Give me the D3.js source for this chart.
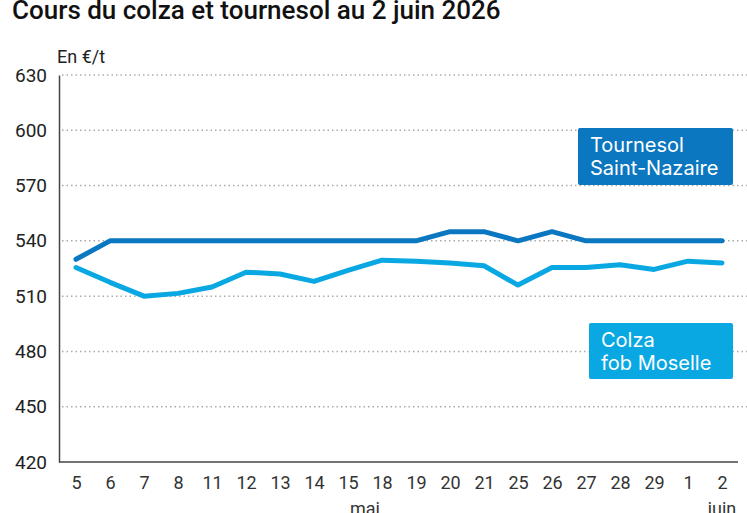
<!DOCTYPE html>
<html>
<head>
<meta charset="utf-8">
<script src="https://cdn.jsdelivr.net/npm/d3@7"></script>
<style>
  body { margin: 0; background: #fff; }
  svg { display: block; font-family: Roboto, sans-serif; }
</style>
</head>
<body>
<div id="chart"></div>
<script>
// jours de cotation (mai puis juin)
const days = ["5", "6", "7", "8", "11", "12", "13", "14", "15", "18", "19", "20", "21", "25", "26", "27", "28", "29", "1", "2"];
const tournesol = [530, 540, 540, 540, 540, 540, 540, 540, 540, 540, 540, 545, 545, 540, 545, 540, 540, 540, 540, 540];
const colza = [525.5, 517.5, 510, 511.5, 515, 523, 522, 518, 524, 529.5, 529, 528, 526.5, 516, 525.5, 525.5, 527, 524.5, 529, 528];
const yTicks = [420, 450, 480, 510, 540, 570, 600, 630];
const months = [{ label: "mai", at: 8.5 }, { label: "juin", at: 19 }];

const width = 747, height = 513;
const margin = { top: 75, right: 25, bottom: 51, left: 59 };

const svg = d3.select("#chart").append("svg")
  .attr("width", width)
  .attr("height", height);

svg.append("text")
  .attr("x", 12).attr("y", 18.5)
  .attr("font-size", 26).attr("font-weight", 500)
  .attr("fill", "#111")
  .text("Cours du colza et tournesol au 2 juin 2026");

svg.append("text")
  .attr("x", 57).attr("y", 63)
  .attr("font-size", 18).attr("fill", "#222")
  .text("En €/t");

const x = d3.scalePoint()
  .domain(d3.range(days.length))
  .range([76, 722]);

const y = d3.scaleLinear()
  .domain([420, 630])
  .range([height - margin.bottom, margin.top]);

// grille pointillée
svg.append("g")
  .selectAll("line")
  .data(yTicks.filter(d => d > 420))
  .join("line")
  .attr("x1", margin.left + 3).attr("x2", width)
  .attr("y1", d => y(d)).attr("y2", d => y(d))
  .attr("stroke", "#aaa")
  .attr("stroke-width", 1.5)
  .attr("stroke-dasharray", "1.5,3");

// axe Y
const yAxis = svg.append("g")
  .attr("transform", `translate(${margin.left},0)`)
  .call(d3.axisLeft(y).tickValues(yTicks).tickSize(0).tickPadding(12));
yAxis.select(".domain").attr("stroke", "#444").attr("stroke-width", 1.5);
yAxis.selectAll("text")
  .attr("font-size", 19).attr("fill", "#222")
  .attr("font-family", "Roboto, sans-serif");

// axe X
const xAxis = svg.append("g")
  .attr("transform", `translate(0,${y(420)})`)
  .call(d3.axisBottom(x).tickFormat(i => days[i]).tickSize(0).tickPadding(14));
xAxis.select(".domain")
  .attr("d", `M${margin.left},0H738`)
  .attr("stroke", "#444").attr("stroke-width", 1.5);
xAxis.selectAll("text")
  .attr("font-size", 18).attr("fill", "#333")
  .attr("font-family", "Roboto, sans-serif");

// mois (coupés en bas dans l'original)
svg.append("g")
  .selectAll("text")
  .data(months)
  .join("text")
  .attr("x", d => x(Math.floor(d.at)) + (d.at % 1) * x.step())
  .attr("y", 515)
  .attr("text-anchor", "middle")
  .attr("font-size", 18).attr("fill", "#333")
  .text(d => d.label);

const line = d3.line()
  .x((d, i) => x(i))
  .y(d => y(d));

const series = [
  { name: ["Tournesol", "Saint-Nazaire"], values: tournesol, color: "#0a77c0", box: [578, 128, 155, 57] },
  { name: ["Colza", "fob Moselle"], values: colza, color: "#0aa8e2", box: [589, 323, 144, 56] }
];

svg.append("g")
  .selectAll("path")
  .data(series)
  .join("path")
  .attr("d", d => line(d.values))
  .attr("fill", "none")
  .attr("stroke", d => d.color)
  .attr("stroke-width", 5)
  .attr("stroke-linejoin", "round")
  .attr("stroke-linecap", "round");

// étiquettes
const labels = svg.append("g")
  .selectAll("g")
  .data(series)
  .join("g")
  .attr("transform", d => `translate(${d.box[0]},${d.box[1]})`);

labels.append("rect")
  .attr("width", d => d.box[2])
  .attr("height", d => d.box[3])
  .attr("rx", 2)
  .attr("fill", d => d.color);

labels.selectAll("text")
  .data(d => d.name)
  .join("text")
  .attr("x", 12)
  .attr("y", (d, i) => 24 + i * 23)
  .attr("font-size", 20)
  .attr("font-family", "Inter, Roboto, sans-serif")
  .attr("fill", "#fff")
  .text(d => d);
</script>
</body>
</html>
